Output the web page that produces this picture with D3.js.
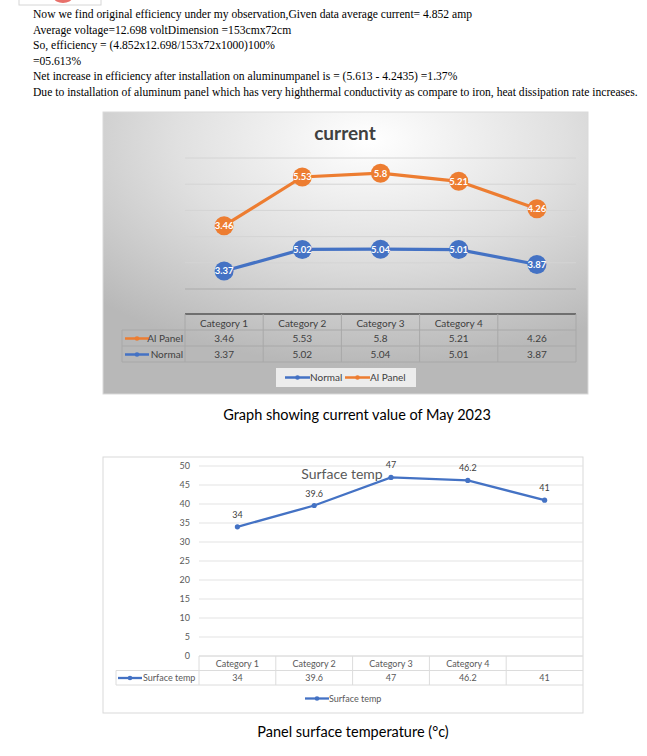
<!DOCTYPE html>
<html>
<head>
<meta charset="utf-8">
<script src="https://cdn.jsdelivr.net/npm/d3@7"></script>
<style>
  body { margin: 0; background: #fff; }
  svg { display: block; }
</style>
</head>
<body>
<svg id="page" width="647" height="756"></svg>
<script>
// text above the charts
var noteLines = [
    "Now we find original efficiency under my observation,Given data average current= 4.852 amp",
    "Average voltage=12.698 voltDimension =153cmx72cm",
    "So, efficiency = (4.852x12.698/153x72x1000)100%",
    "=05.613%",
    "Net increase in efficiency after installation on aluminumpanel is = (5.613 - 4.2435) =1.37%",
    "Due to installation of aluminum panel which has very highthermal conductivity as compare to iron, heat dissipation rate increases."
];

// chart 1 data
var categories = ["Category 1", "Category 2", "Category 3", "Category 4", ""];
var normalValues = [3.37, 5.02, 5.04, 5.01, 3.87];
var alPanelValues = [3.46, 5.53, 5.8, 5.21, 4.26];
var currentTicks = [2, 4, 6, 8, 10, 12];

// chart 2 data
var surfaceTemp = [34, 39.6, 47, 46.2, 41];
var tempTicks = [0, 5, 10, 15, 20, 25, 30, 35, 40, 45, 50];

var BLUE = "#4472C4", ORANGE = "#ED7D31";
var FONT = "Lato, 'Noto Sans', sans-serif";

var svg = d3.select("#page");

// little clipped image at the top
svg.append("rect").attr("x", 19).attr("y", -4).attr("width", 82).attr("height", 9)
    .attr("fill", "#fff").attr("stroke", "#d6d6d6");
svg.append("ellipse").attr("cx", 63).attr("cy", -2).attr("rx", 9).attr("ry", 5)
    .attr("fill", "#e8706a");

svg.append("g").selectAll("text")
    .data(noteLines)
    .enter()
    .append("text")
    .attr("x", 33)
    .attr("y", function (d, i) { return 18 + i * 15.6; })
    .attr("font-family", "'Liberation Serif', 'Times New Roman', serif")
    .attr("font-size", 11.6)
    .attr("fill", "#000")
    .text(function (d) { return d; });

// ---------- chart 1: current (stacked line) ----------
var defs = svg.append("defs");
var grad = defs.append("radialGradient").attr("id", "bg1")
    .attr("cx", "55%").attr("cy", "10%").attr("r", "80%");
grad.append("stop").attr("offset", "0%").attr("stop-color", "#ffffff");
grad.append("stop").attr("offset", "50%").attr("stop-color", "#e0e0e0");
grad.append("stop").attr("offset", "100%").attr("stop-color", "#b8b8b8");

var c1 = svg.append("g");
c1.append("rect").attr("x", 103).attr("y", 112).attr("width", 485).attr("height", 282)
    .attr("fill", "url(#bg1)").attr("stroke", "#d9d9d9");

c1.append("text").attr("x", 345).attr("y", 140)
    .attr("text-anchor", "middle").attr("font-family", FONT)
    .attr("font-size", 19).attr("font-weight", "bold").attr("fill", "#404040")
    .text("current");

var x1 = d3.scaleBand().domain(categories.map(function (d, i) { return i; })).range([185, 576]);
var y1 = d3.scaleLinear().domain([2, 12]).range([289, 158]);

c1.append("g").selectAll("line")
    .data(currentTicks)
    .enter()
    .append("line")
    .attr("x1", 185).attr("x2", 576)
    .attr("y1", function (d) { return y1(d); })
    .attr("y2", function (d) { return y1(d); })
    .attr("stroke", function (d, i) { return i === 0 ? "#b5b5b5" : "#d4d4d4"; })
    .attr("stroke-width", function (d, i) { return i === 0 ? 1.5 : 1; });

// stacked: Al Panel sits on top of Normal
var stackedAl = alPanelValues.map(function (v, i) { return v + normalValues[i]; });
var series1 = [
    { name: "Normal", color: BLUE, top: normalValues, labels: normalValues },
    { name: "Al Panel", color: ORANGE, top: stackedAl, labels: alPanelValues }
];
var line1 = d3.line()
    .x(function (d, i) { return x1(i) + x1.bandwidth() / 2; })
    .y(function (d) { return y1(d); });

series1.forEach(function (s) {
    c1.append("path").datum(s.top)
        .attr("d", line1).attr("fill", "none")
        .attr("stroke", s.color).attr("stroke-width", 3.2);
    var pts = c1.append("g").selectAll("g")
        .data(s.top)
        .enter()
        .append("g")
        .attr("transform", function (d, i) {
            return "translate(" + (x1(i) + x1.bandwidth() / 2) + "," + y1(d) + ")";
        });
    pts.append("circle").attr("r", 9.5).attr("fill", s.color);
    pts.append("text")
        .attr("text-anchor", "middle").attr("dy", "0.35em")
        .attr("font-family", FONT).attr("font-size", 9.5).attr("font-weight", "bold")
        .attr("fill", "#fff")
        .text(function (d, i) { return s.labels[i]; });
});

// data table under chart 1
var tTop = 314, rowH = 16;
var tbl1 = c1.append("g").attr("font-family", FONT).attr("font-size", 10).attr("fill", "#404040");
tbl1.append("line").attr("x1", 185).attr("x2", 576).attr("y1", tTop).attr("y2", tTop)
    .attr("stroke", "#6f6f6f").attr("stroke-width", 2);
[tTop + rowH, tTop + 2 * rowH, tTop + 3 * rowH].forEach(function (yy) {
    tbl1.append("line").attr("x1", 122).attr("x2", 576).attr("y1", yy).attr("y2", yy)
        .attr("stroke", "#a8a8a8");
});
tbl1.append("line").attr("x1", 122).attr("x2", 122).attr("y1", tTop + rowH).attr("y2", tTop + 3 * rowH)
    .attr("stroke", "#a8a8a8");
categories.forEach(function (c, i) {
    tbl1.append("line").attr("x1", x1(i)).attr("x2", x1(i)).attr("y1", tTop).attr("y2", tTop + 3 * rowH)
        .attr("stroke", "#a8a8a8");
});
tbl1.append("line").attr("x1", 576).attr("x2", 576).attr("y1", tTop).attr("y2", tTop + 3 * rowH)
    .attr("stroke", "#a8a8a8");
tbl1.selectAll("text.cat")
    .data(categories)
    .enter()
    .append("text")
    .attr("x", function (d, i) { return x1(i) + x1.bandwidth() / 2; })
    .attr("y", tTop + 12.5)
    .attr("text-anchor", "middle")
    .text(function (d) { return d; });

var tableRows1 = [
    { name: "Al Panel", color: ORANGE, values: alPanelValues },
    { name: "Normal", color: BLUE, values: normalValues }
];
tableRows1.forEach(function (r, k) {
    var ry = tTop + rowH * (k + 1) + 12;
    tbl1.append("line").attr("x1", 125).attr("x2", 149).attr("y1", ry - 3.5).attr("y2", ry - 3.5)
        .attr("stroke", r.color).attr("stroke-width", 2.5);
    tbl1.append("circle").attr("cx", 137).attr("cy", ry - 3.5).attr("r", 2.3).attr("fill", r.color);
    tbl1.append("text").attr("x", 183).attr("y", ry).attr("text-anchor", "end").text(r.name);
    r.values.forEach(function (v, i) {
        tbl1.append("text").attr("x", x1(i) + x1.bandwidth() / 2).attr("y", ry)
            .attr("text-anchor", "middle").text(v);
    });
});

// legend chart 1
var leg1 = c1.append("g").attr("font-family", FONT).attr("font-size", 10).attr("fill", "#404040");
leg1.append("rect").attr("x", 276).attr("y", 368).attr("width", 140).attr("height", 19).attr("fill", "#ececec");
[{ name: "Normal", color: BLUE, x: 285 }, { name: "Al Panel", color: ORANGE, x: 345 }].forEach(function (l) {
    leg1.append("line").attr("x1", l.x).attr("x2", l.x + 25).attr("y1", 377.5).attr("y2", 377.5)
        .attr("stroke", l.color).attr("stroke-width", 2.5);
    leg1.append("circle").attr("cx", l.x + 12.5).attr("cy", 377.5).attr("r", 2.3).attr("fill", l.color);
    leg1.append("text").attr("x", l.x + 25).attr("y", 381).text(l.name);
});

svg.append("text").attr("x", 357).attr("y", 420).attr("text-anchor", "middle")
    .attr("font-family", FONT).attr("font-size", 14.5).attr("fill", "#000")
    .text("Graph showing current value of May 2023");

// ---------- chart 2: surface temp ----------
var c2 = svg.append("g");
c2.append("rect").attr("x", 103).attr("y", 457).attr("width", 480).attr("height", 256)
    .attr("fill", "#fff").attr("stroke", "#d9d9d9");

var x2 = d3.scaleBand().domain(categories.map(function (d, i) { return i; })).range([199, 583]);
var y2 = d3.scaleLinear().domain([0, 50]).range([656, 466]);

c2.append("g").selectAll("line")
    .data(tempTicks)
    .enter()
    .append("line")
    .attr("x1", 199).attr("x2", 583)
    .attr("y1", function (d) { return y2(d); })
    .attr("y2", function (d) { return y2(d); })
    .attr("stroke", "#e3e3e3");

var yAxis2 = c2.append("g").attr("transform", "translate(199,0)")
    .call(d3.axisLeft(y2).tickValues(tempTicks).tickSize(0).tickPadding(9));
yAxis2.select(".domain").remove();
yAxis2.selectAll("text").attr("font-family", FONT).attr("font-size", 9).attr("fill", "#595959");

c2.append("text").attr("x", 342).attr("y", 479).attr("text-anchor", "middle")
    .attr("font-family", FONT).attr("font-size", 14).attr("fill", "#595959")
    .text("Surface temp");

var line2 = d3.line()
    .x(function (d, i) { return x2(i) + x2.bandwidth() / 2; })
    .y(function (d) { return y2(d); });
c2.append("path").datum(surfaceTemp).attr("d", line2).attr("fill", "none")
    .attr("stroke", BLUE).attr("stroke-width", 2.3);
c2.append("g").selectAll("circle")
    .data(surfaceTemp)
    .enter()
    .append("circle")
    .attr("cx", function (d, i) { return x2(i) + x2.bandwidth() / 2; })
    .attr("cy", function (d) { return y2(d); })
    .attr("r", 2.6).attr("fill", BLUE);
c2.append("g").selectAll("text")
    .data(surfaceTemp)
    .enter()
    .append("text")
    .attr("x", function (d, i) { return x2(i) + x2.bandwidth() / 2; })
    .attr("y", function (d) { return y2(d) - 9; })
    .attr("text-anchor", "middle")
    .attr("font-family", FONT).attr("font-size", 9).attr("fill", "#404040")
    .text(function (d) { return d; });

// data table under chart 2
var t2 = 656, rh2 = 14.5;
var tbl2 = c2.append("g").attr("font-family", FONT).attr("font-size", 9).attr("fill", "#595959");
[t2, t2 + rh2, t2 + 2 * rh2].forEach(function (yy, k) {
    tbl2.append("line").attr("x1", k === 0 ? 199 : 116).attr("x2", 583).attr("y1", yy).attr("y2", yy)
        .attr("stroke", "#dcdcdc");
});
tbl2.append("line").attr("x1", 116).attr("x2", 116).attr("y1", t2 + rh2).attr("y2", t2 + 2 * rh2)
    .attr("stroke", "#dcdcdc");
categories.forEach(function (c, i) {
    tbl2.append("line").attr("x1", x2(i)).attr("x2", x2(i)).attr("y1", t2).attr("y2", t2 + 2 * rh2)
        .attr("stroke", "#dcdcdc");
});
tbl2.selectAll("text.cat")
    .data(categories)
    .enter()
    .append("text")
    .attr("x", function (d, i) { return x2(i) + x2.bandwidth() / 2; })
    .attr("y", t2 + 10.5)
    .attr("text-anchor", "middle")
    .text(function (d) { return d; });
surfaceTemp.forEach(function (v, i) {
    tbl2.append("text").attr("x", x2(i) + x2.bandwidth() / 2).attr("y", t2 + rh2 + 10.5)
        .attr("text-anchor", "middle").text(v);
});
tbl2.append("line").attr("x1", 118).attr("x2", 142).attr("y1", t2 + rh2 + 7.5).attr("y2", t2 + rh2 + 7.5)
    .attr("stroke", BLUE).attr("stroke-width", 2.3);
tbl2.append("circle").attr("cx", 130).attr("cy", t2 + rh2 + 7.5).attr("r", 2.3).attr("fill", BLUE);
tbl2.append("text").attr("x", 143).attr("y", t2 + rh2 + 10.5).text("Surface temp");

// legend chart 2
var leg2 = c2.append("g").attr("font-family", FONT).attr("font-size", 9).attr("fill", "#595959");
leg2.append("line").attr("x1", 305).attr("x2", 329).attr("y1", 698.5).attr("y2", 698.5)
    .attr("stroke", BLUE).attr("stroke-width", 2.3);
leg2.append("circle").attr("cx", 317).attr("cy", 698.5).attr("r", 2.3).attr("fill", BLUE);
leg2.append("text").attr("x", 329).attr("y", 701.5).text("Surface temp");

svg.append("text").attr("x", 353).attr("y", 737).attr("text-anchor", "middle")
    .attr("font-family", FONT).attr("font-size", 14.5).attr("fill", "#000")
    .text("Panel surface temperature (°c)");
</script>
</body>
</html>
